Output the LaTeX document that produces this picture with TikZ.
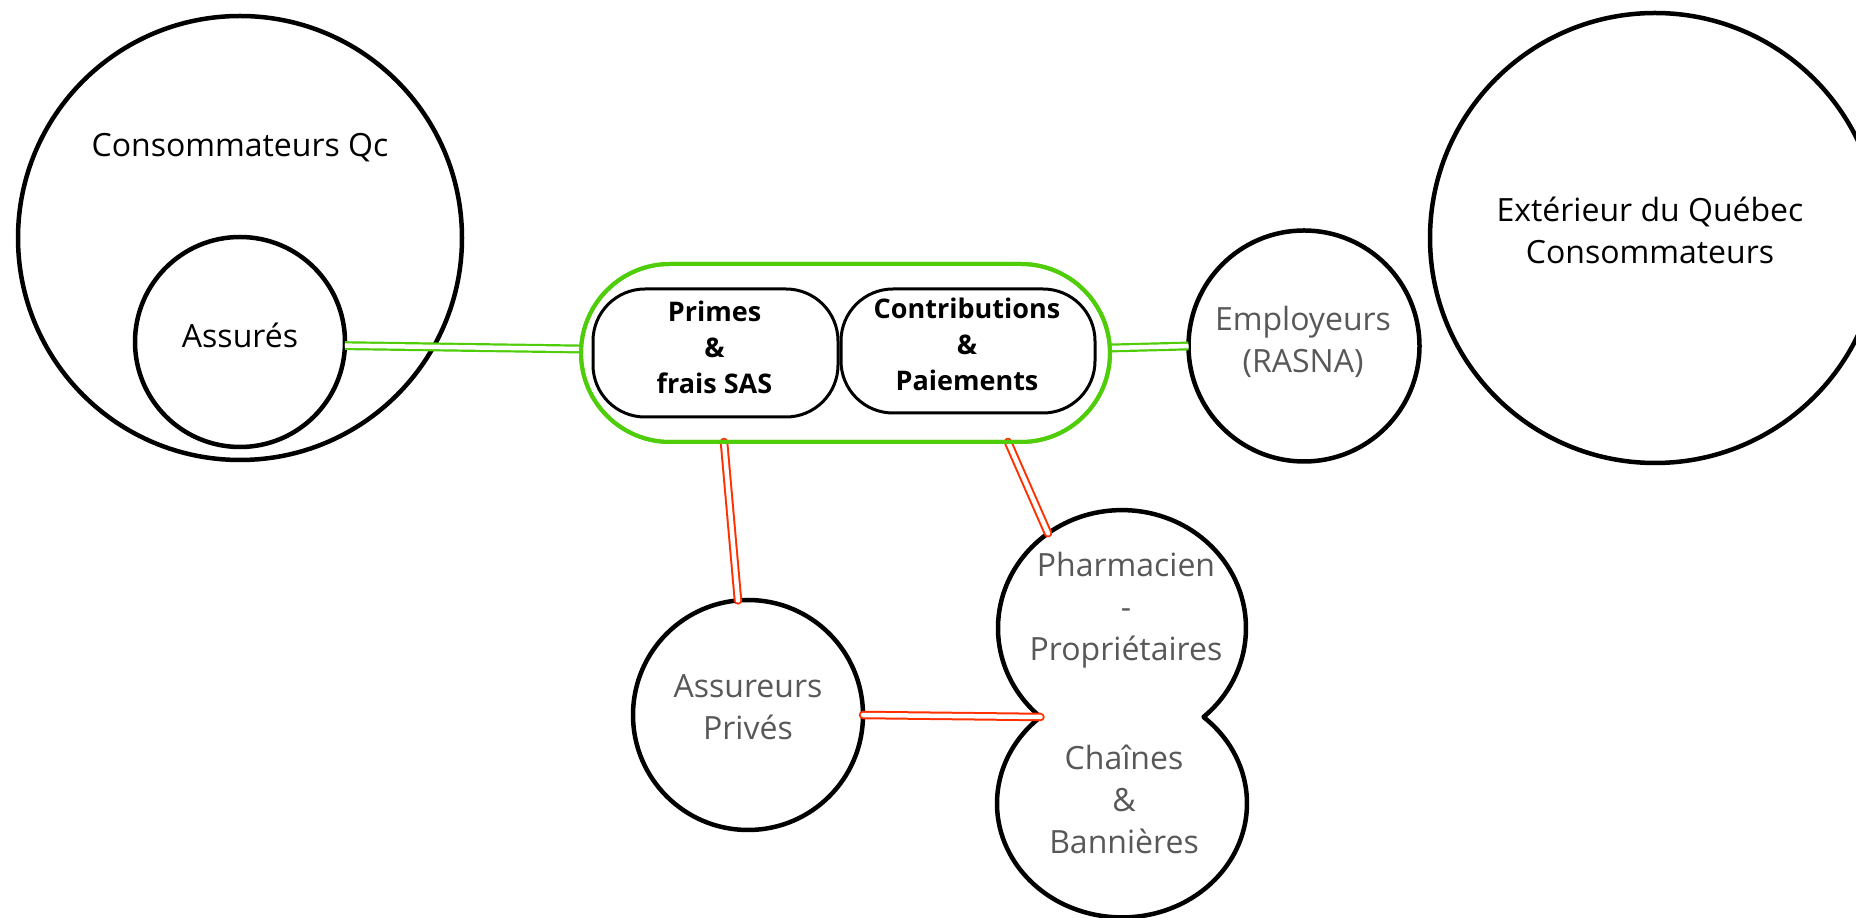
\documentclass[tikz,border=0pt]{standalone}
\usepackage{fontspec}
\setmainfont{Open Sans}
\usetikzlibrary{shapes.geometric}
\definecolor{lgreen}{RGB}{78,205,8}
\definecolor{lred}{RGB}{255,48,0}
\definecolor{tgray}{RGB}{88,88,88}
\tikzset{
  circ/.style={circle, draw=black, line width=4.5pt, fill=white, inner sep=0pt, outer sep=0pt},
  reg/.style={inner sep=0pt, align=center, font=\fontsize{32}{42}\selectfont},
  grey/.style={reg, text=tgray},
  bld/.style={inner sep=0pt, align=center, font=\fontsize{27}{36}\selectfont\bfseries},
  box/.style={rectangle, draw=black, line width=3pt, rounded corners=52pt, fill=white, inner sep=0pt, outer sep=0pt},
  pillstyle/.style={rectangle, draw=lgreen, line width=4pt, rounded corners=89pt, fill=white, inner sep=0pt, outer sep=0pt},
  gcon/.style={draw=lgreen, double=white, line width=2.2pt, double distance=4.5pt},
  rcon/.style={draw=lred, double=white, line width=2pt, double distance=4.5pt, line cap=round},
  phpart/.style={ellipse, fill=white, inner sep=0pt, outer sep=0pt},
}
\begin{document}
\begin{tikzpicture}[x=1pt,y=1pt]
\useasboundingbox (0,0) rectangle (1856,918);
\clip (0,0) rectangle (1856,918);
% circles
\node[circ, minimum size=444pt] (cons) at (240,680) {};
\node[circ, minimum size=210pt] (assur) at (240,576) {};
\node[circ, minimum size=450pt] (ext) at (1655,680) {};
\node[circ, minimum size=231pt] (emp) at (1304,572) {};
\node[circ, minimum size=230pt] (assr) at (748,203) {};
% pharmacien double shape
\node[phpart, minimum width=248pt, minimum height=236pt] (ph1) at (1122,290) {};
\node[phpart, minimum width=250pt, minimum height=228pt] (ph2) at (1122,115) {};
\draw[line width=4.5pt, line join=round]
  (1203.5,201) arc[start angle=-48.9, end angle=228.9, x radius=124, y radius=118]
  arc[start angle=130.7, end angle=409.3, x radius=125, y radius=114] -- cycle;
\coordinate (pinch) at (1040.5,201);
% central pill
\node[pillstyle, minimum width=529pt, minimum height=178pt] (pill) at (845.5,565) {};
\node[box, minimum width=245pt, minimum height=128pt] (prim) at (715.5,565) {};
\node[box, minimum width=254pt, minimum height=124pt] (contr) at (968,567) {};
% connectors
\draw[gcon] (assur.-2) -- ([yshift=4pt]pill.west);
\draw[gcon] ([yshift=5pt]pill.east) -- (emp.180);
\draw[rcon] ([xshift=-121.5pt]pill.south) -- (assr.95.6);
\draw[rcon] ([xshift=162.5pt]pill.south) -- (ph1.128.7);
\draw[rcon] (assr.east) -- (pinch);
% restroke pill border over connector ends
\draw[draw=lgreen, line width=4pt, rounded corners=89pt] (pill.south west) rectangle (pill.north east);
% texts
\node[reg, anchor=base] (tcons) at (240,761) {Consommateurs Qc};
\node[reg, anchor=base] (tassur) at (240,570) {Assurés};
\node[reg] (text) at (1650,688) {Extérieur du Québec\\Consommateurs};
\node[grey] (temp) at (1303,576) {Employeurs\\(RASNA)};
\node[grey] (tassr) at (748,210.5) {Assureurs\\Privés};
\node[grey] (tph1) at (1126,307.5) {Pharmacien\\-\\Propriétaires};
\node[grey] (tph2) at (1124,118.5) {Chaînes\\\&\\Bannières};
\node[bld] (tprim) at (714.5,571) {Primes\\\&\\frais SAS};
\node[bld] (tcontr) at (967,574) {Contributions\\\&\\Paiements};
\end{tikzpicture}
\end{document}
